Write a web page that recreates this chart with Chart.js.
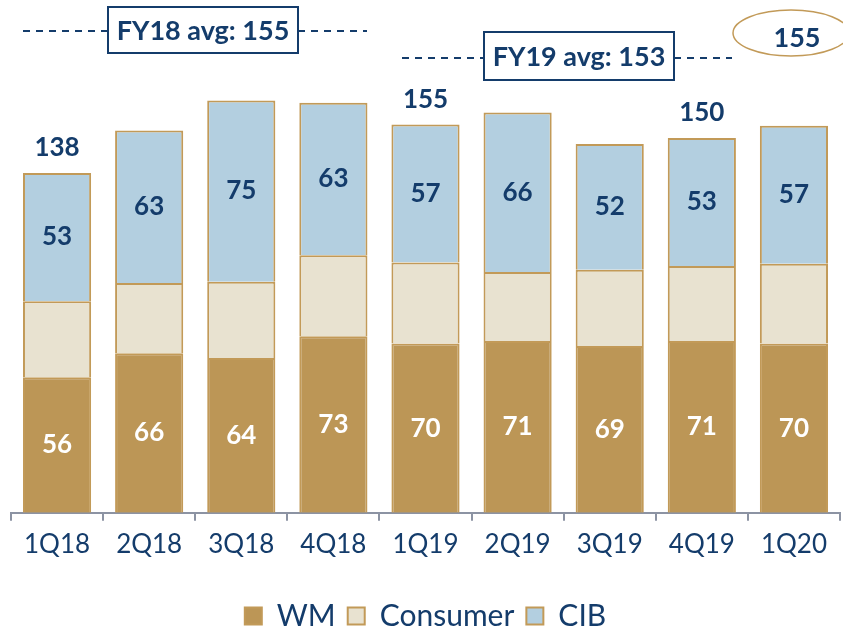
<!DOCTYPE html>
<html>
<head>
<meta charset="utf-8">
<script src="https://cdn.jsdelivr.net/npm/chart.js@4.4.0/dist/chart.umd.min.js"></script>
<style>
    html, body { margin: 0; padding: 0; background: #fff; }
    #wrap { width: 843px; height: 630px; position: relative; }
</style>
</head>
<body>
<div id="wrap"><canvas id="revenueChart"></canvas></div>
<script>
// Dados do gráfico
const quarters = ['1Q18', '2Q18', '3Q18', '4Q18', '1Q19', '2Q19', '3Q19', '4Q19', '1Q20'];
const wmValues = [56, 66, 64, 73, 70, 71, 69, 71, 70];
const consumerValues = [31.5, 29, 31.5, 33.5, 33.5, 28.5, 31.5, 31, 33];
const cibValues = [53, 63, 75, 63, 57, 66, 52, 53, 57];
const totalLabels = [138, null, null, null, 155, null, null, 150, null];
const fy18Avg = 155;
const fy19Avg = 153;
const latestTotal = 155;

const navy = '#143c6b';
const gold = '#c29a58';
const font = 'Lato, "Open Sans", sans-serif';

// Rótulos dentro das barras e totais acima
const valueLabels = {
    id: 'valueLabels',
    afterDatasetsDraw(chart) {
        const ctx = chart.ctx;
        ctx.save();
        ctx.font = 'bold 26px ' + font;
        ctx.textAlign = 'center';
        ctx.textBaseline = 'middle';
        chart.data.datasets.forEach((ds, i) => {
            if (!ds.showValues) return;
            chart.getDatasetMeta(i).data.forEach((bar, j) => {
                ctx.fillStyle = ds.valueColor;
                ctx.fillText(ds.data[j], bar.x, (bar.y + bar.base) / 2);
            });
        });
        const topMeta = chart.getDatasetMeta(chart.data.datasets.length - 1);
        ctx.fillStyle = navy;
        totalLabels.forEach((t, j) => {
            if (t === null) return;
            const bar = topMeta.data[j];
            ctx.fillText(t, bar.x, bar.y - 25);
        });
        ctx.restore();
    }
};

// Caixas de média e elipse
const annotations = {
    id: 'annotations',
    afterDraw(chart) {
        const ctx = chart.ctx;
        const drawAvg = (text, lx1, lx2, bx1, bx2, by1, by2, ly) => {
            ctx.save();
            ctx.strokeStyle = navy;
            ctx.lineWidth = 2;
            ctx.setLineDash([7, 6]);
            ctx.beginPath();
            ctx.moveTo(lx1, ly); ctx.lineTo(bx1, ly);
            ctx.moveTo(bx2, ly); ctx.lineTo(lx2, ly);
            ctx.stroke();
            ctx.setLineDash([]);
            ctx.fillStyle = '#fff';
            ctx.fillRect(bx1, by1, bx2 - bx1, by2 - by1);
            ctx.strokeRect(bx1, by1, bx2 - bx1, by2 - by1);
            ctx.fillStyle = navy;
            ctx.font = 'bold 27px ' + font;
            ctx.textAlign = 'center';
            ctx.textBaseline = 'middle';
            ctx.fillText(text, (bx1 + bx2) / 2, (by1 + by2) / 2 + 1);
            ctx.restore();
        };
        drawAvg('FY18 avg: ' + fy18Avg, 23, 367, 108, 298, 7, 53, 31);
        drawAvg('FY19 avg: ' + fy19Avg, 402, 732, 484, 674, 32, 80, 58);

        ctx.save();
        ctx.strokeStyle = gold;
        ctx.lineWidth = 1.5;
        ctx.beginPath();
        ctx.ellipse(791, 33, 58, 23, 0, 0, Math.PI * 2);
        ctx.stroke();
        ctx.fillStyle = navy;
        ctx.font = 'bold 27px ' + font;
        ctx.textAlign = 'center';
        ctx.textBaseline = 'middle';
        ctx.fillText(latestTotal, 797, 38);
        ctx.restore();
    }
};

const ctx = document.getElementById('revenueChart').getContext('2d');
new Chart(ctx, {
    type: 'bar',
    data: {
        labels: quarters,
        datasets: [
            { label: 'WM', data: wmValues, backgroundColor: '#bc9656', borderColor: gold, borderWidth: 2,
              showValues: true, valueColor: '#ffffff' },
            { label: 'Consumer', data: consumerValues, backgroundColor: '#e8e2d0', borderColor: gold, borderWidth: 2 },
            { label: 'CIB', data: cibValues, backgroundColor: '#b3cfe0', borderColor: gold, borderWidth: 2,
              showValues: true, valueColor: navy }
        ]
    },
    options: {
        responsive: true,
        maintainAspectRatio: false,
        animation: false,
        datasets: { bar: { barPercentage: 0.74, categoryPercentage: 1.0 } },
        layout: { padding: { left: 11, right: 3, top: 0, bottom: -11 } },
        scales: {
            x: {
                stacked: true,
                grid: { drawOnChartArea: false, drawTicks: true, tickLength: 8, color: '#8c93a3', lineWidth: 2 },
                border: { display: true, color: '#8c93a3', width: 2 },
                ticks: { color: navy, font: { family: font, size: 26 }, padding: 8 },
                afterFit: (scale) => { scale.height += 21; }
            },
            y: { stacked: true, display: false, min: 0, max: 212 }
        },
        plugins: {
            legend: {
                position: 'bottom',
                labels: { boxWidth: 17, boxHeight: 17, color: navy, padding: 12,
                          font: { family: font, size: 30 } }
            },
            tooltip: { enabled: false }
        }
    },
    plugins: [valueLabels, annotations]
});
</script>
</body>
</html>
